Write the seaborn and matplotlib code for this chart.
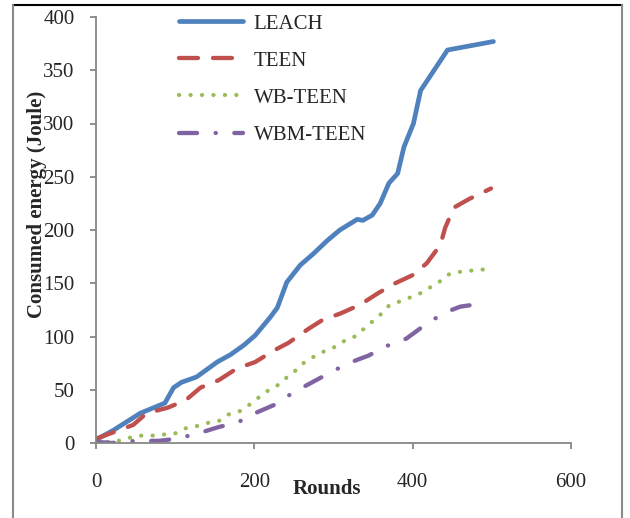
import matplotlib
matplotlib.use("Agg")
import matplotlib.pyplot as plt
import seaborn as sns
from matplotlib.lines import Line2D

### Data
leach_rounds = [0, 22, 56, 87, 98, 108, 127, 153, 170, 187, 201, 220, 229, 241, 258, 275,
                292, 308, 330, 337, 349, 359, 370, 381, 389, 401, 410, 419, 444, 502]
leach_energy = [3, 12, 28, 37.5, 52, 57, 62, 76, 83, 92, 101, 118, 127, 151, 167, 178,
                190, 200, 210, 209, 214, 225, 244, 253, 278, 300, 331, 341, 369, 377]

teen_rounds = [0, 47, 64, 90, 113, 132, 155, 178, 201, 225, 243, 268, 285, 310, 334, 357,
               378, 401, 418, 435, 441, 452, 471, 499]
teen_energy = [4, 17, 28, 33, 40, 52, 59, 70, 76, 87, 94, 107, 115, 122, 130, 141,
               150, 158, 169, 186, 202, 221, 229, 239]

wb_rounds = [0, 28, 43, 58, 72, 86, 100, 114, 128, 142, 156, 168, 182, 194, 206, 217, 229,
             240, 252, 262, 275, 288, 301, 314, 327, 338, 349, 360, 370, 384, 398, 411,
             424, 435, 447, 462, 476, 490]
wb_energy = [0, 2, 5, 7, 7, 8, 9, 14, 16, 19, 21, 27, 30, 36, 43, 49, 54,
             61, 68, 75, 81, 86, 90, 96, 100, 107, 114, 121, 129, 133, 137, 141,
             147, 152, 159, 161, 162, 163]

wbm_rounds = [0, 20, 50, 79, 102, 129, 155, 178, 204, 229, 248, 273, 298, 319, 344, 370,
              392, 414, 439, 460, 487]
wbm_energy = [1, 0, 2, 2, 4, 9, 15, 19, 29, 37, 47, 57, 67, 75, 82, 92,
              98, 110, 122, 128, 131]

series_names = ["LEACH", "TEEN", "WB-TEEN", "WBM-TEEN"]
colors = ["#4F81BD", "#C0504D", "#9BBB59", "#8064A2"]

sns.set_style("white")
plt.rcParams['font.family'] = ['Liberation Serif', 'DejaVu Serif']

fig = plt.figure(figsize=(6.3, 5.18), dpi=100)
ax = fig.add_axes([96 / 630, 1 - 443 / 518, 475 / 630, 426 / 518])

styles = [
    dict(linestyle='-', linewidth=3.4),
    dict(linestyle=(0, (4.4, 3.5)), linewidth=3.1),
    dict(linestyle=(0, (0.05, 2.7)), linewidth=3.0),
    dict(linestyle=(0, (4.2, 4.3, 0.05, 4.3)), linewidth=3.1),
]
data = [(leach_rounds, leach_energy), (teen_rounds, teen_energy),
        (wb_rounds, wb_energy), (wbm_rounds, wbm_energy)]

handles = []
for (xs, ys), name, col, st in zip(data, series_names, colors, styles):
    sns.lineplot(x=xs, y=ys, ax=ax, color=col, solid_capstyle='round',
                 dash_capstyle='round', **st)
    handles.append(Line2D([], [], color=col, dash_capstyle='round',
                          solid_capstyle='round', **st))

ax.set_xlim(0, 600)
ax.set_ylim(0, 400)
ax.set_xticks([0, 200, 400, 600])
ax.set_yticks(range(0, 401, 50))

for side in ['top', 'right']:
    ax.spines[side].set_visible(False)
for side in ['left', 'bottom']:
    ax.spines[side].set_color('#878787')
    ax.spines[side].set_linewidth(1.3)

ax.tick_params(axis='y', direction='out', length=4.5, width=1.3, color='#878787',
               pad=11, labelsize=15, left=True)
ax.tick_params(axis='x', direction='out', length=4.5, width=1.3, color='#878787',
               pad=17, labelsize=15, bottom=True)

ax.set_xlabel('Rounds', fontsize=15, fontweight='bold')
ax.set_ylabel('Consumed energy (Joule)', fontsize=15, fontweight='bold')
ax.xaxis.set_label_coords(0.486, -0.084)
ax.yaxis.set_label_coords(-0.103, 0.56)

ax.legend(handles, series_names, loc='upper left', bbox_to_anchor=(0.135, 1.051),
          frameon=False, fontsize=15, handlelength=3.1, handletextpad=0.5,
          labelspacing=0.84)

# frame around the figure
fig.add_artist(Line2D([13 / 630, 622 / 630], [1 - 5 / 518, 1 - 5 / 518],
                      color='black', linewidth=1.5, transform=fig.transFigure))
fig.add_artist(Line2D([13 / 630, 13 / 630], [0, 1 - 5 / 518],
                      color='#8a8a8a', linewidth=1.5, transform=fig.transFigure))
fig.add_artist(Line2D([622 / 630, 622 / 630], [0, 1 - 5 / 518],
                      color='#8a8a8a', linewidth=1.5, transform=fig.transFigure))

fig.savefig('out.png', dpi=100)
